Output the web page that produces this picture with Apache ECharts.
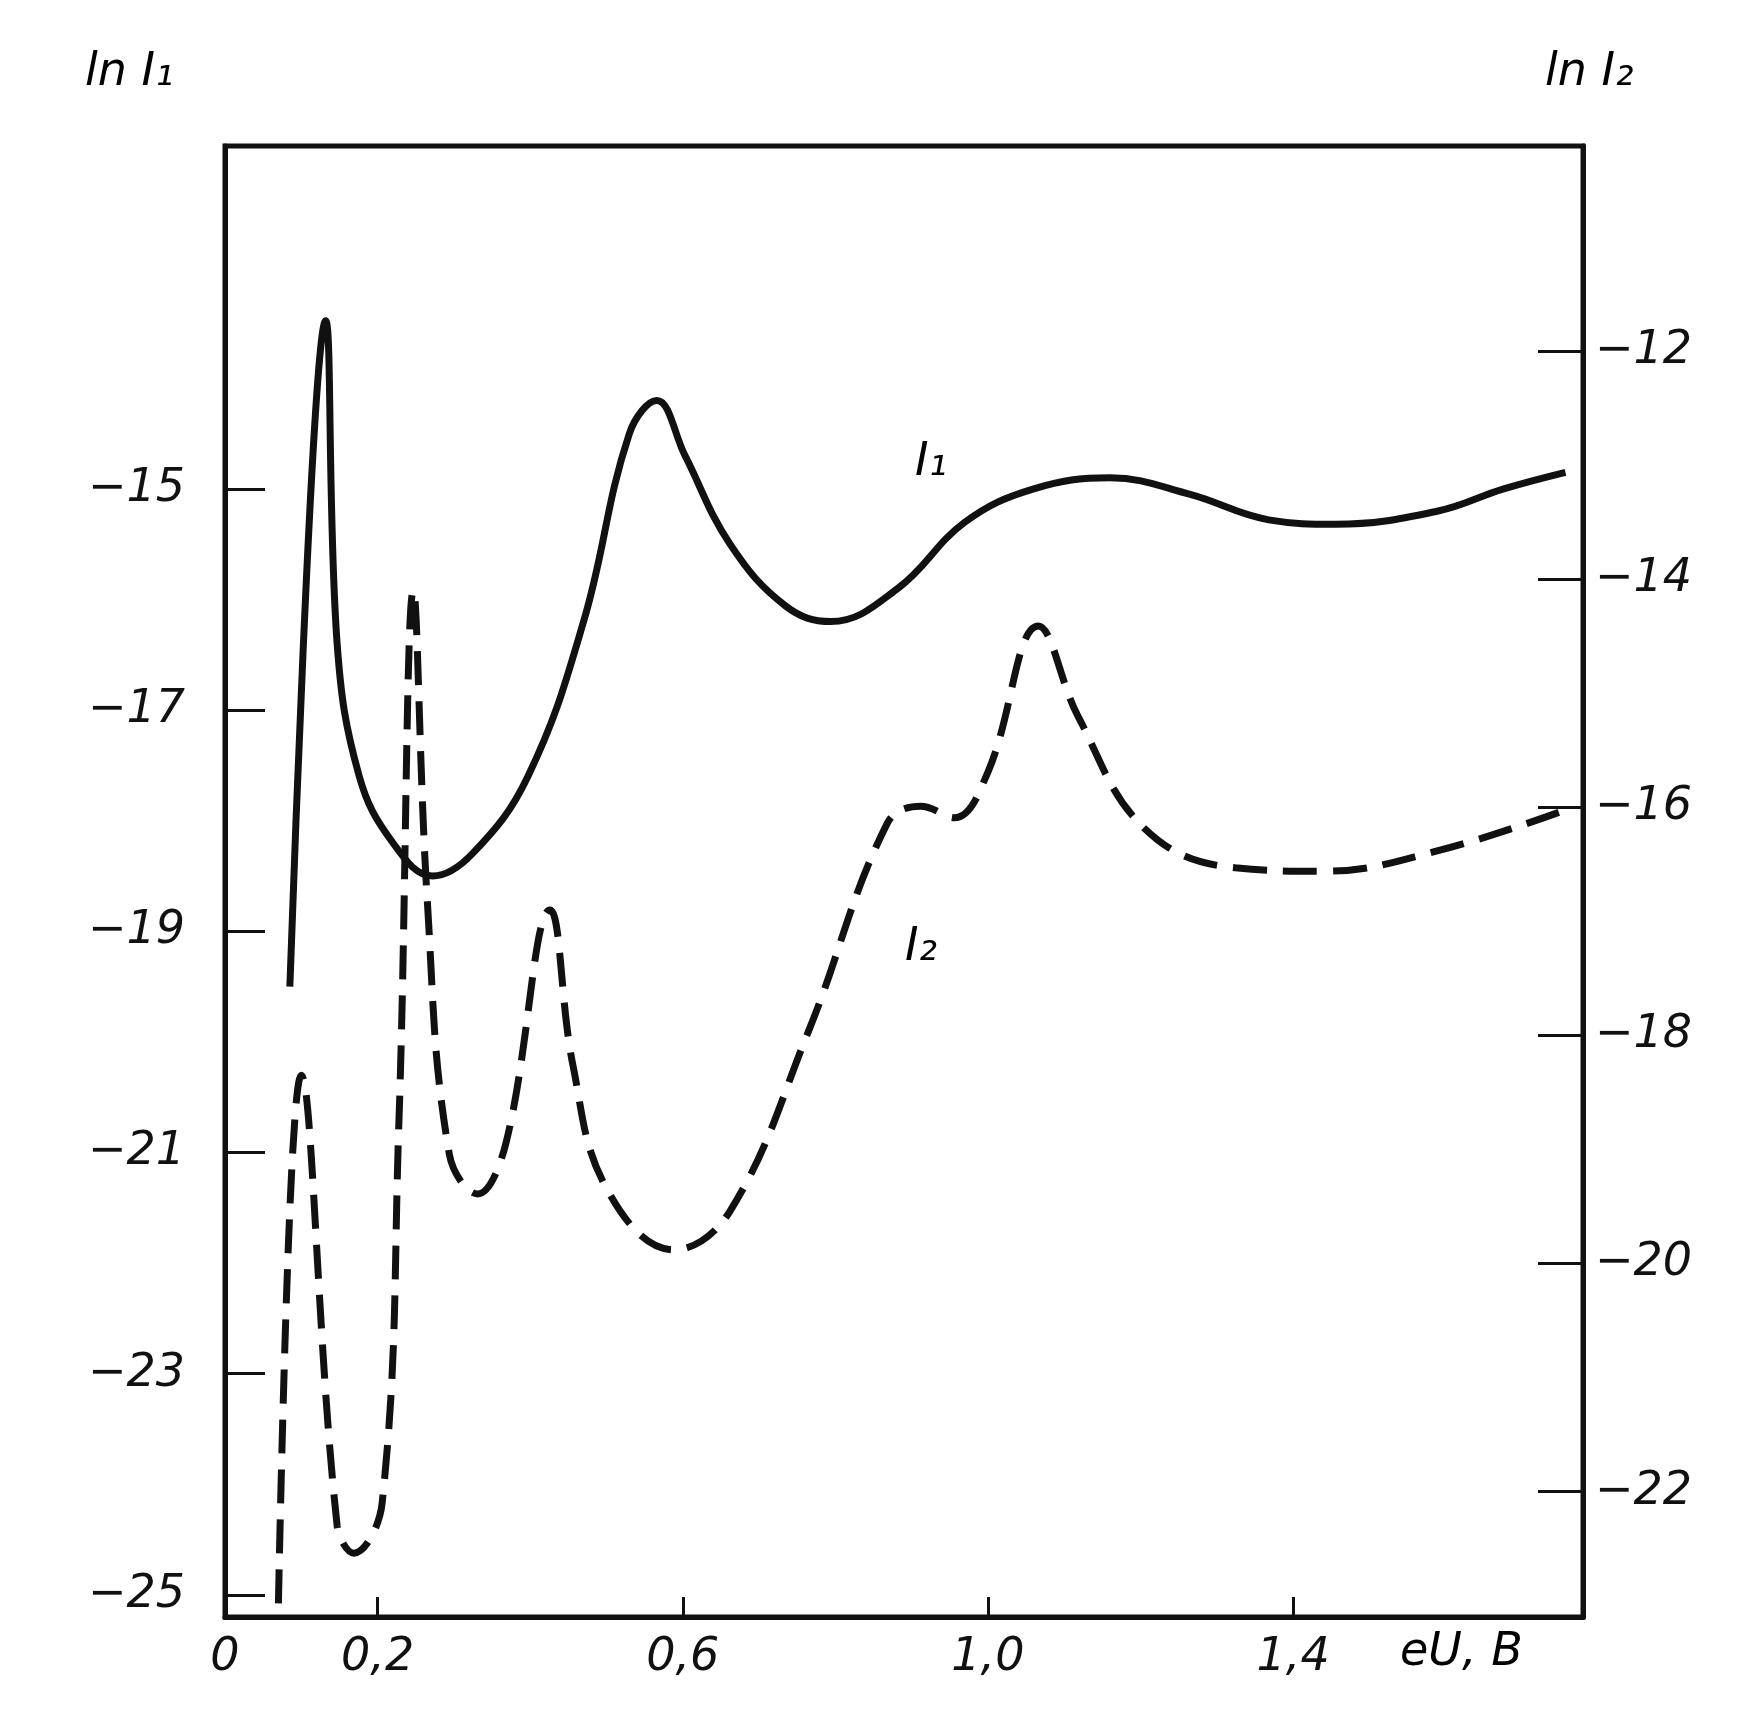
<!DOCTYPE html>
<html><head><meta charset="utf-8">
<script src="https://cdn.jsdelivr.net/npm/echarts@6/dist/echarts.min.js"></script>
<style>html,body{margin:0;background:#fff}#c{width:1752px;height:1709px}</style>
</head><body><div id="c"></div>
<script>
// I1, solid, left axis
const i1 = [[0.085,-19.5],[0.132,-13.48],[0.147,-16.4],[0.176,-17.6],[0.22,-18.2],[0.272,-18.5],
  [0.324,-18.3],[0.397,-17.6],[0.47,-16.2],[0.53,-14.5],[0.566,-14.2],[0.603,-14.7],[0.662,-15.5],
  [0.735,-16.06],[0.794,-16.2],[0.882,-15.9],[0.97,-15.3],[1.06,-15.0],[1.16,-14.9],[1.265,-15.05],
  [1.368,-15.28],[1.456,-15.32],[1.59,-15.2],[1.676,-15.0],[1.757,-14.85]]
// I2, dashed, right axis
const i2 = [[0.07,-22.98],[0.1,-18.35],[0.147,-22.3],[0.169,-22.54],[0.206,-22.1],[0.228,-18.75],
  [0.247,-14.1],[0.265,-16.8],[0.294,-19.04],[0.331,-19.39],[0.368,-18.95],[0.426,-16.9],[0.456,-18.26],
  [0.5,-19.34],[0.588,-19.88],[0.662,-19.54],[0.765,-17.96],[0.868,-16.14],[0.912,-15.99],[0.956,-16.09],
  [1.0,-15.69],[1.066,-14.41],[1.118,-15.2],[1.206,-16.19],[1.324,-16.53],[1.44,-16.56],[1.59,-16.38],[1.75,-16.04]]
const xTicks = [0.2,0.6,1.0,1.4]
const xLabels = [0,0.2,0.6,1.0,1.4]
const leftTicks = [-25,-23,-21,-19,-17,-15]
const rightTicks = [-22,-20,-18,-16,-14,-12]

const fmt = v => (Math.abs(v) < 1e-9 ? '0' : (v < 0 ? '\u2212' + (-v) : v.toFixed(1).replace('.', ',')))
const lab = {fontFamily:'DejaVu Sans', fontStyle:'italic', fontSize:46, color:'#111'}
const chart = echarts.init(document.getElementById('c'))
chart.setOption({
  animation:false,
  grid:{left:225, right:169, top:146, bottom:92},
  xAxis:{type:'value', min:0, max:1.78,
    axisLine:{lineStyle:{color:'#111', width:5}},
    axisTick:{inside:true, length:20, lineStyle:{width:3, color:'#111'}, customValues:xTicks},
    axisLabel:Object.assign({customValues:xLabels, formatter:fmt, margin:18}, lab),
    splitLine:{show:false}},
  yAxis:[
    {type:'value', position:'left', min:-25.2, max:-11.9,
     axisLine:{show:true, lineStyle:{color:'#111', width:5}},
     axisTick:{inside:true, length:40, lineStyle:{width:3, color:'#111'}, customValues:leftTicks},
     axisLabel:Object.assign({customValues:leftTicks, formatter:fmt, margin:40}, lab),
     splitLine:{show:false}},
    {type:'value', position:'right', min:-23.1, max:-10.2,
     axisLine:{show:true, lineStyle:{color:'#111', width:5}},
     axisTick:{inside:true, length:45, lineStyle:{width:3, color:'#111'}, customValues:rightTicks},
     axisLabel:Object.assign({customValues:rightTicks, formatter:fmt, margin:12}, lab),
     splitLine:{show:false}}
  ],
  series:[
    {type:'line', yAxisIndex:0, data:i1, smooth:0.4, showSymbol:false,
     lineStyle:{color:'#111', width:7}},
    {type:'line', yAxisIndex:1, data:i2, smooth:0.4, showSymbol:false,
     lineStyle:{color:'#111', width:7, type:[34,16]}}
  ],
  graphic:[
    {type:'rect', shape:{x:225, y:146, width:1358, height:1471}, style:{fill:'none', stroke:'#111', lineWidth:5}, silent:true},
    {type:'text', left:85, top:50, style:Object.assign({text:'ln I\u2081'}, lab)},
    {type:'text', left:1545, top:50, style:Object.assign({text:'ln I\u2082'}, lab)},
    {type:'text', left:1400, top:1630, style:Object.assign({text:'eU, B'}, lab)},
    {type:'text', left:915, top:440, style:Object.assign({text:'I\u2081'}, lab)},
    {type:'text', left:905, top:925, style:Object.assign({text:'I\u2082'}, lab)}
  ]
})
</script></body></html>
